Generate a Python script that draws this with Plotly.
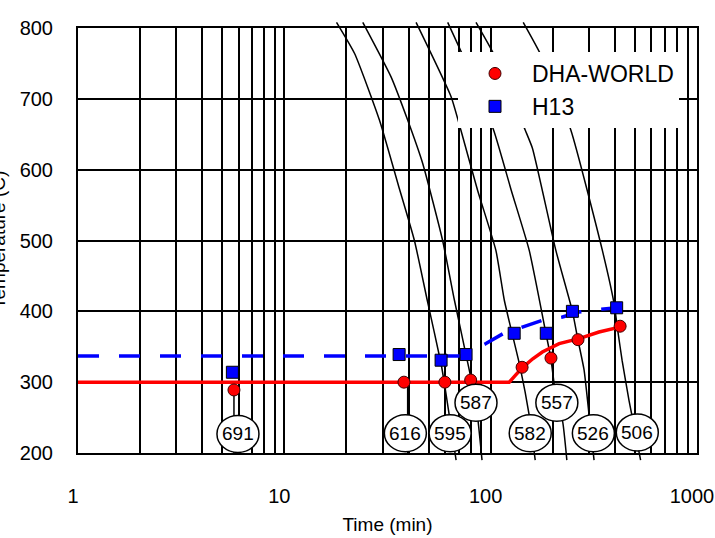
import numpy as np
import plotly.graph_objects as go

# ---------------- data ----------------
# measured points (time in min, temperature in C)
dha_time = [5.7, 38, 60, 80, 142, 196, 265, 424]
dha_temp = [289, 300, 300, 303, 321, 334, 360, 379]
h13_time = [5.6, 36, 57.5, 76, 130, 186, 249, 408]
h13_temp = [314, 339, 331, 339, 369, 369, 400, 405]

# fitted transformation lines
dha_fit_time = [1, 123, 132, 142.6, 160, 178, 214.7, 268, 335, 427]
dha_fit_temp = [300, 300, 310, 320.6, 333, 342.6, 354.4, 361.5, 370.8, 378]
h13_fit_time = [1, 76, 81.7, 94.9, 115, 140, 178, 223, 268, 342, 408]
h13_fit_temp = [337, 337, 345, 354.5, 368.6, 377, 387.4, 392, 399, 403, 405]

# cooling curves (labelled by hardness)
curve_595_time = [17.9, 21.9, 28.9, 35.7, 42.7, 49.5, 57.5, 59.7, 68]
curve_595_temp = [808, 764, 670, 578, 500, 413, 326, 298, 190]
curve_587_time = [24.0, 32.9, 39.6, 46.8, 58.5, 66.7, 75.9, 84.9, 90.8]
curve_587_temp = [808, 731, 670, 609, 500, 416, 339, 270, 190]
curve_582_time = [43.5, 64.3, 71.7, 86.4, 106, 116.4, 127, 139, 153.8, 164.4]
curve_582_temp = [808, 703, 656, 571, 486, 416, 369, 321, 253, 190]
curve_557_time = [61.9, 73.1, 103.3, 125.8, 153.8, 185.2, 195.7, 209.3, 222.8, 234]
curve_557_temp = [808, 762, 656, 571, 486, 369, 334, 270, 246, 190]
curve_526_time = [84.9, 104, 147, 159.5, 207, 249, 264.5, 283.7, 300, 317]
curve_526_temp = [808, 762, 656, 630, 486, 400, 360.5, 317, 253, 190]
curve_506_time = [143.8, 175.1, 244.6, 347.8, 396.3, 414.4, 433.3, 468.4, 533]
curve_506_temp = [808, 762, 656, 486, 411, 370, 331, 274, 190]

curves_time = [curve_595_time, curve_587_time, curve_582_time,
               curve_557_time, curve_526_time, curve_506_time]
curves_temp = [curve_595_temp, curve_587_temp, curve_582_temp,
               curve_557_temp, curve_526_temp, curve_506_temp]

# hardness labels
label_text = ["691", "616", "595", "587", "582", "557", "526", "506"]
label_time = [5.96, 38.6, 63.6, 84.9, 155.5, 209.3, 314.6, 513.6]
label_temp = [227, 228, 228, 271, 228, 271, 228, 229]

# short leader lines (points without a drawn cooling curve)
leader_time = [5.7, 39.6]
leader_top = [289, 300]
leader_bottom = [200, 200]

x_range_log = [0, 3]
x_tick_vals = [1, 10, 100, 1000]
x_tick_text = ["1", "10", "100", "1000"]
x_minor_vals = [m * d for d in (1, 10, 100) for m in range(2, 10)]
y_tick_vals = [200, 300, 400, 500, 600, 700, 800]

# ---------------- geometry ----------------
W, H = 715, 538
PL, PR, PT, PB = 78, 697, 28, 453     # frame of the diagram (px)
ET, EB = 6, 463                        # extended area where curves may run
units_per_px = 600 / (PB - PT)
y2_range = [200 - (EB - PB) * units_per_px, 800 + (PT - ET) * units_per_px]
ydom = [(EB - PB) / (EB - ET), (EB - PT) / (EB - ET)]

def px_x(p):
    return (p - PL) / (PR - PL)

def px_y(p):
    return (EB - p) / (EB - ET)

def time_to_paper(t):
    return (np.log10(t) - x_range_log[0]) / (x_range_log[1] - x_range_log[0])

FONT = "Liberation Sans, Arial, Helvetica, sans-serif"

fig = go.Figure()

# invisible trace so the framed subplot is initialised
fig.add_trace(go.Scatter(x=[10], y=[500], mode="markers", marker=dict(opacity=0),
                         showlegend=False, hoverinfo="skip", xaxis="x", yaxis="y"))

for ct, cT in zip(curves_time, curves_temp):
    fig.add_trace(go.Scatter(x=ct, y=cT, mode="lines",
                             line=dict(color="black", width=1.5, shape="spline", smoothing=0.5),
                             showlegend=False, hoverinfo="skip", xaxis="x2", yaxis="y2"))

for lt, a, b in zip(leader_time, leader_top, leader_bottom):
    fig.add_trace(go.Scatter(x=[lt, lt], y=[a, b], mode="lines",
                             line=dict(color="black", width=1.5),
                             showlegend=False, hoverinfo="skip", xaxis="x2", yaxis="y2"))

fig.add_trace(go.Scatter(x=h13_fit_time, y=h13_fit_temp, mode="lines",
                         line=dict(color="#0000ff", width=3.5, dash="21px,20px"),
                         showlegend=False, hoverinfo="skip", xaxis="x2", yaxis="y2"))
fig.add_trace(go.Scatter(x=dha_fit_time, y=dha_fit_temp, mode="lines",
                         line=dict(color="#ff0000", width=3.5),
                         showlegend=False, hoverinfo="skip", xaxis="x2", yaxis="y2"))

fig.add_trace(go.Scatter(x=dha_time, y=dha_temp, mode="markers", name="DHA-WORLD",
                         marker=dict(symbol="circle", size=12, color="#ff0000",
                                     line=dict(color="#400000", width=1)),
                         xaxis="x2", yaxis="y2"))
fig.add_trace(go.Scatter(x=h13_time, y=h13_temp, mode="markers", name="H13",
                         marker=dict(symbol="square", size=12, color="#0000ff",
                                     line=dict(color="black", width=1)),
                         xaxis="x2", yaxis="y2"))

shapes = []
annotations = []
for txt, lt, lT in zip(label_text, label_time, label_temp):
    shapes.append(dict(type="circle", xref="paper", yref="y", xsizemode="pixel", ysizemode="pixel",
                       xanchor=time_to_paper(lt), yanchor=lT, x0=-21, x1=21, y0=-18.5, y1=18.5,
                       fillcolor="white", line=dict(color="black", width=1.5), layer="above"))
    annotations.append(dict(x=np.log10(lt), y=lT, xref="x", yref="y", text=txt, showarrow=False,
                            font=dict(family=FONT, size=19, color="black"),
                            xanchor="center", yanchor="middle"))

annotations.append(dict(x=px_x(-2), y=px_y(240), xref="paper", yref="paper",
                        text="Temperature (C)", textangle=-90, showarrow=False,
                        font=dict(family=FONT, size=19, color="black"),
                        xanchor="center", yanchor="middle"))

axis_common = dict(showline=True, linecolor="black", linewidth=2, mirror=True,
                   showgrid=True, gridcolor="black", gridwidth=1.6, zeroline=False,
                   ticks="outside", tickcolor="rgba(0,0,0,0)", ticklabeloverflow="allow",
                   tickfont=dict(family=FONT, size=20, color="black"), automargin=False)

fig.update_layout(
    width=W, height=H,
    margin=dict(l=PL, r=W - PR, t=ET, b=H - EB, pad=0),
    paper_bgcolor="white", plot_bgcolor="rgba(0,0,0,0)",
    showlegend=True,
    xaxis=dict(type="log", range=x_range_log, domain=[0, 1], anchor="y",
               tickvals=x_tick_vals, ticktext=x_tick_text, ticklen=24, ticklabelshift=-5,
               minor=dict(tickvals=x_minor_vals, showgrid=True, gridcolor="black", gridwidth=1.6, ticks=""),
               title=dict(text="Time (min)", font=dict(family=FONT, size=19, color="black"), standoff=12),
               **axis_common),
    yaxis=dict(range=[200, 800], domain=ydom, anchor="x", tickvals=y_tick_vals, ticklen=19,
               **axis_common),
    xaxis2=dict(type="log", range=x_range_log, domain=[0, 1], anchor="y2", visible=False),
    yaxis2=dict(range=y2_range, domain=[0, 1], anchor="x2", visible=False),
    legend=dict(x=px_x(458), xanchor="left", y=px_y(52), yanchor="top",
                bgcolor="white", borderwidth=0, itemwidth=64, tracegroupgap=0,
                font=dict(family=FONT, size=23, color="black")),
    shapes=shapes, annotations=annotations,
)

fig.write_html("out.html")
